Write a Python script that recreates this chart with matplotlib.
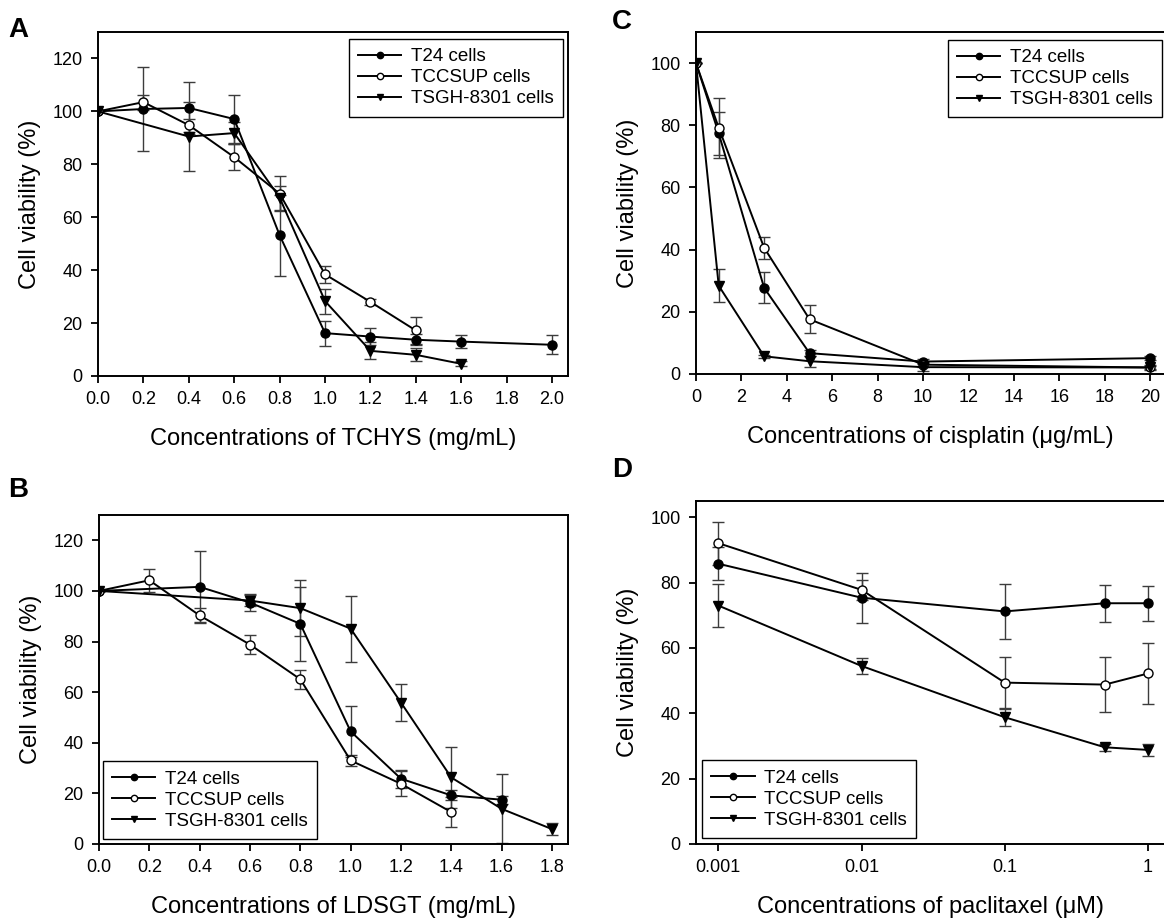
import numpy as np
import matplotlib
matplotlib.use("Agg")
import matplotlib.pyplot as plt

plt.rcParams['font.family'] = ['Liberation Sans', 'DejaVu Sans']

labels = ['T24 cells', 'TCCSUP cells', 'TSGH-8301 cells']

# A: TCHYS (mg/mL)
a_t24_x = [0.0, 0.2, 0.4, 0.6, 0.8, 1.0, 1.2, 1.4, 1.6, 2.0]
a_t24_y = [100, 100.9, 101.3, 97.1, 53.2, 16.2, 14.9, 13.7, 13.0, 11.8]
a_t24_e = [0, 15.8, 9.8, 9.0, 15.3, 4.7, 3.2, 2.0, 2.5, 3.6]
a_tcc_x = [0.0, 0.2, 0.4, 0.6, 0.8, 1.0, 1.2, 1.4]
a_tcc_y = [100, 103.5, 94.8, 82.7, 68.9, 38.4, 28.0, 17.2]
a_tcc_e = [0, 2.8, 2.5, 5.0, 6.7, 3.2, 1.0, 5.2]
a_tsg_x = [0.0, 0.4, 0.6, 0.8, 1.0, 1.2, 1.4, 1.6]
a_tsg_y = [100, 90.5, 91.8, 67.4, 28.3, 9.5, 8.0, 4.6]
a_tsg_e = [0, 13.0, 4.0, 4.5, 4.7, 3.2, 2.5, 1.0]

# B: LDSGT (mg/mL)
b_t24_x = [0.0, 0.4, 0.6, 0.8, 1.0, 1.2, 1.4, 1.6]
b_t24_y = [100, 101.6, 95.4, 87.0, 44.5, 25.8, 19.2, 17.5]
b_t24_e = [0, 14.0, 3.5, 14.6, 10.0, 3.5, 2.0, 1.6]
b_tcc_x = [0.0, 0.2, 0.4, 0.6, 0.8, 1.0, 1.2, 1.4]
b_tcc_y = [100, 104.2, 90.3, 78.8, 65.1, 33.0, 23.8, 12.6]
b_tcc_e = [0, 4.6, 2.9, 3.9, 3.8, 2.1, 5.0, 6.0]
b_tsg_x = [0.0, 0.6, 0.8, 1.0, 1.2, 1.4, 1.6, 1.8]
b_tsg_y = [100, 96.2, 93.2, 85.1, 55.9, 26.3, 13.9, 5.9]
b_tsg_e = [0, 2.0, 11.1, 13.0, 7.4, 12.2, 13.6, 2.5]

# C: cisplatin (ug/mL)
c_x = [0, 1, 3, 5, 10, 20]
c_t24_y = [100, 77.4, 27.7, 6.7, 4.0, 5.1]
c_t24_e = [0, 7.0, 5.0, 1.0, 0.8, 0.6]
c_tcc_y = [100, 79.2, 40.6, 17.6, 3.0, 2.1]
c_tcc_e = [0, 9.6, 3.5, 4.5, 0.8, 0.5]
c_tsg_y = [100, 28.4, 5.7, 4.1, 2.2, 2.1]
c_tsg_e = [0, 5.3, 0.5, 1.8, 1.2, 0.8]

# D: paclitaxel (uM)
d_x = [0.001, 0.01, 0.1, 0.5, 1]
d_t24_y = [85.8, 75.4, 71.2, 73.7, 73.7]
d_t24_e = [5.0, 7.6, 8.4, 5.7, 5.4]
d_tcc_y = [92.1, 77.8, 49.4, 48.8, 52.2]
d_tcc_e = [6.6, 3.1, 7.7, 8.4, 9.3]
d_tsg_y = [73.0, 54.5, 38.8, 29.6, 28.8]
d_tsg_e = [6.5, 2.5, 2.6, 1.0, 1.8]

W, H = 1164, 922
fig = plt.figure(figsize=(W / 100, H / 100), dpi=100)


def px_axes(left, top, right, bottom):
    return fig.add_axes([left / W, 1 - bottom / H, (right - left) / W, (bottom - top) / H])


styles = [dict(marker='o', mfc='k'), dict(marker='o', mfc='white'), dict(marker='v', mfc='k')]


def draw(ax, series):
    for (x, y, e), st, lab in zip(series, styles, labels):
        ax.errorbar(x, y, yerr=e, color='k', lw=1.4, ms=6.5, mec='k', mew=1.0,
                    ecolor='#3c3c3c', elinewidth=1.0, capsize=4.5, capthick=1.0,
                    label=lab, **st)
    for s in ax.spines.values():
        s.set_linewidth(1.4)
    ax.tick_params(direction='out', length=5, width=1.3, labelsize=13, pad=6)
    ax.set_ylabel('Cell viability (%)', fontsize=17, labelpad=8)


def legend(ax, loc, anchor):
    handles, labs = ax.get_legend_handles_labels()
    handles = [h[0] for h in handles]
    leg = ax.legend(handles, labs, loc=loc, bbox_to_anchor=anchor, fontsize=13.5,
                    frameon=True, fancybox=False, edgecolor='k', framealpha=1,
                    borderaxespad=0, handlelength=2.3, handletextpad=0.5,
                    labelspacing=0.2, markerscale=0.7, borderpad=0.5)
    leg.get_frame().set_linewidth(1.0)


# A
ax = px_axes(98, 32, 568, 376)
draw(ax, [(a_t24_x, a_t24_y, a_t24_e), (a_tcc_x, a_tcc_y, a_tcc_e), (a_tsg_x, a_tsg_y, a_tsg_e)])
ax.set_xlim(0, 2.07)
ax.set_ylim(0, 130)
ax.set_xticks(np.arange(0, 2.01, 0.2))
ax.set_xticklabels([f'{v:.1f}' for v in np.arange(0, 2.01, 0.2)])
ax.set_yticks(range(0, 121, 20))
ax.set_xlabel('Concentrations of TCHYS (mg/mL)', fontsize=17, labelpad=14)
legend(ax, 'upper right', (0.989, 0.98))

# B
ax = px_axes(99, 515, 568, 844)
draw(ax, [(b_t24_x, b_t24_y, b_t24_e), (b_tcc_x, b_tcc_y, b_tcc_e), (b_tsg_x, b_tsg_y, b_tsg_e)])
ax.set_xlim(0, 1.864)
ax.set_ylim(0, 130)
ax.set_xticks(np.arange(0, 1.81, 0.2))
ax.set_xticklabels([f'{v:.1f}' for v in np.arange(0, 1.81, 0.2)])
ax.set_yticks(range(0, 121, 20))
ax.set_xlabel('Concentrations of LDSGT (mg/mL)', fontsize=17, labelpad=14)
legend(ax, 'lower left', (0.0085, 0.015))

# C (right edge runs off the canvas)
ax = px_axes(696, 32, 1165, 374)
draw(ax, [(c_x, c_t24_y, c_t24_e), (c_x, c_tcc_y, c_tcc_e), (c_x, c_tsg_y, c_tsg_e)])
ax.spines['right'].set_visible(False)
ax.set_xlim(0, 20.65)
ax.set_ylim(0, 110)
ax.set_xticks(range(0, 21, 2))
ax.set_yticks(range(0, 101, 20))
ax.set_xlabel('Concentrations of cisplatin (\u03bcg/mL)', fontsize=17, labelpad=14)
legend(ax, 'upper right', (0.9936, 0.977))

# D
ax = px_axes(696, 501, 1165, 844)
draw(ax, [(d_x, d_t24_y, d_t24_e), (d_x, d_tcc_y, d_tcc_e), (d_x, d_tsg_y, d_tsg_e)])
ax.spines['right'].set_visible(False)
ax.set_xscale('log')
ax.set_xlim(0.000699, 1.315)
ax.set_ylim(0, 105)
ax.set_xticks([0.001, 0.01, 0.1, 1])
ax.set_xticklabels(['0.001', '0.01', '0.1', '1'])
ax.xaxis.set_minor_locator(matplotlib.ticker.NullLocator())
ax.set_yticks(range(0, 101, 20))
ax.set_xlabel('Concentrations of paclitaxel (\u03bcM)', fontsize=17, labelpad=14)
legend(ax, 'lower left', (0.0128, 0.0175))

for letter, x, y in [('A', 18, 30), ('B', 18, 490), ('C', 622, 22), ('D', 622, 470)]:
    fig.text(x / W, 1 - y / H, letter, fontsize=20, fontweight='bold', ha='center', va='center')

fig.savefig('out.png', dpi=100)
